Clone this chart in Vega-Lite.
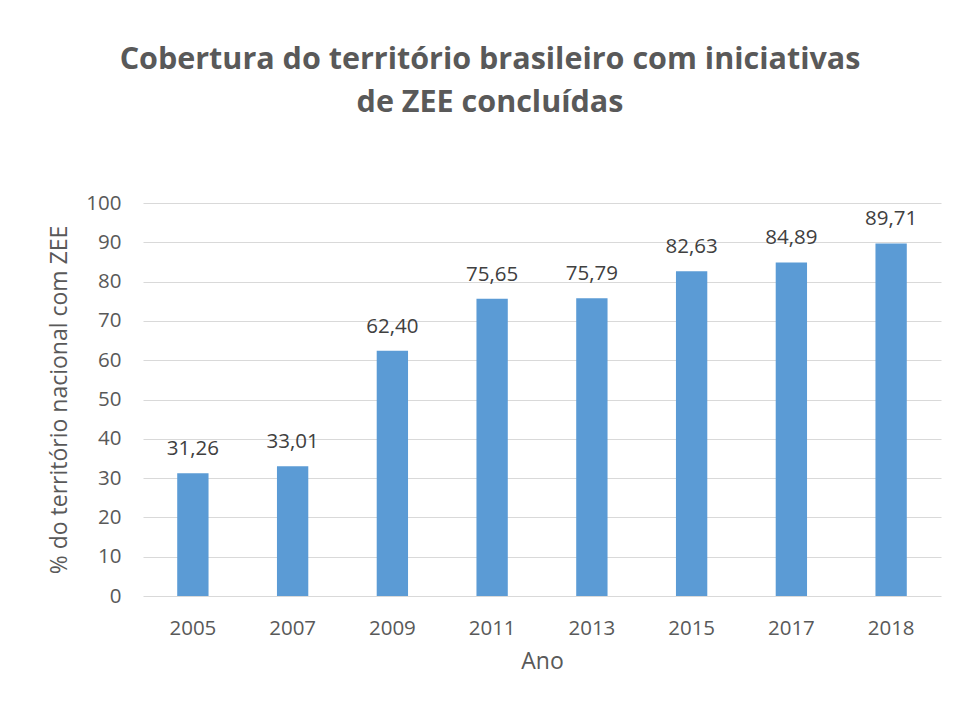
{
  "$schema": "https://vega.github.io/schema/vega-lite/v6.json",
  "width": 798,
  "height": 393,
  "autosize": {"type": "none"},
  "padding": {"left": 143, "top": 203, "right": 16, "bottom": 110},
  "background": "white",
  "title": {
    "text": ["Cobertura do território brasileiro com iniciativas", "de ZEE concluídas"],
    "anchor": "middle",
    "frame": "group",
    "dx": -52,
    "offset": 75,
    "font": "Open Sans",
    "fontSize": 30.5,
    "fontWeight": "bold",
    "color": "#595959",
    "lineHeight": 43
  },
  "data": {
    "values": [
      {"ano": "2005", "valor": 31.26},
      {"ano": "2007", "valor": 33.01},
      {"ano": "2009", "valor": 62.40},
      {"ano": "2011", "valor": 75.65},
      {"ano": "2013", "valor": 75.79},
      {"ano": "2015", "valor": 82.63},
      {"ano": "2017", "valor": 84.89},
      {"ano": "2018", "valor": 89.71}
    ]
  },
  "encoding": {
    "x": {
      "field": "ano",
      "type": "nominal",
      "sort": null,
      "scale": {"paddingInner": 0.686, "paddingOuter": 0.343},
      "axis": {
        "title": "Ano",
        "labelAngle": 0,
        "domain": false,
        "ticks": false,
        "labelPadding": 22,
        "titlePadding": 12
      }
    },
    "y": {
      "field": "valor",
      "type": "quantitative",
      "scale": {"domain": [0, 100], "nice": false},
      "axis": {
        "title": "% do território nacional com ZEE",
        "values": [0, 10, 20, 30, 40, 50, 60, 70, 80, 90, 100],
        "domain": false,
        "ticks": false,
        "labelPadding": 22,
        "titlePadding": 14,
        "gridColor": "#D9D9D9",
        "gridWidth": 1
      }
    }
  },
  "layer": [
    {"mark": {"type": "bar", "color": "#5B9BD5"}},
    {
      "mark": {"type": "text", "baseline": "alphabetic", "dy": -18, "font": "Open Sans", "fontSize": 20.5, "color": "#404040"},
      "encoding": {"text": {"field": "valor", "type": "quantitative", "format": ".2f"}}
    }
  ],
  "config": {
    "locale": {"number": {"decimal": ",", "thousands": ".", "grouping": [3], "currency": ["R$", ""]}},
    "view": {"stroke": null},
    "axis": {
      "labelFont": "Open Sans",
      "labelFontSize": 20.5,
      "labelColor": "#595959",
      "titleFont": "Open Sans",
      "titleFontSize": 23,
      "titleFontWeight": "normal",
      "titleColor": "#595959"
    },
    "axisX": {"grid": false}
  }
}
